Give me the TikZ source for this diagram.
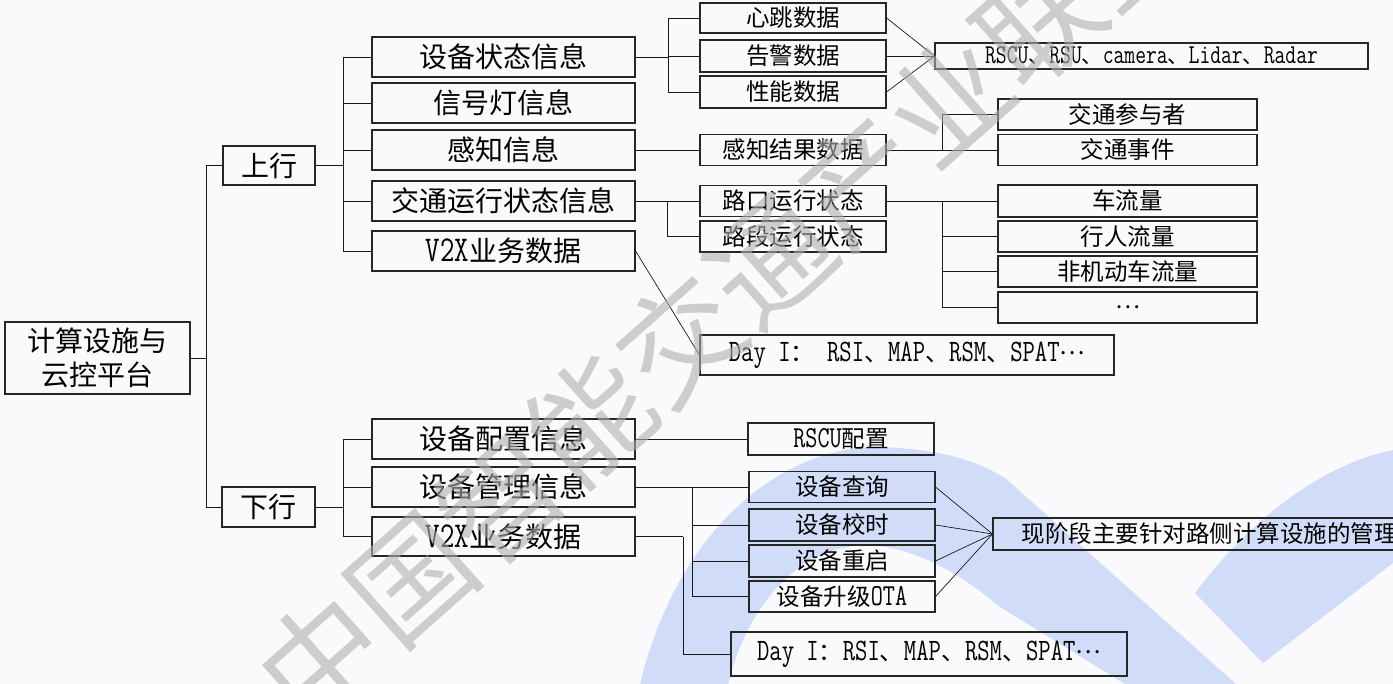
\documentclass[tikz,border=0pt]{standalone}
\usepackage{fontspec}
\setmainfont{Noto Sans CJK SC}
\newcommand\latx[1]{\scalebox{1}[1.3]{\ttfamily #1}}
\newcommand\mdots{\raisebox{0.28em}{…}}
\definecolor{bgc}{RGB}{250,250,252}
\definecolor{wblue}{RGB}{209,221,248}
\definecolor{wmgray}{RGB}{175,175,175}
\begin{document}
\begin{tikzpicture}[x=1pt,y=-1pt,
  box/.style={draw=black!85, line width=1.1pt, inner sep=0pt, align=center},
  big/.style={font=\fontsize{28}{34}\selectfont},
  mid/.style={font=\fontsize{23.5}{28}\selectfont},
  ln/.style={line width=0.9pt, draw=black!90},
  thinln/.style={line width=0.7pt, draw=black!90}]
\clip (0,0) rectangle (1393,684);
\fill[bgc] (0,0) rectangle (1393,684);
% background logo bands
\fill[wblue] (640,684) .. controls (680,520) and (790,445) .. (880,447)
  .. controls (940,449) and (975,460) .. (1005,478) -- (1236,684) -- (1125,684)
  -- (1000,607) .. controls (950,565) and (905,545) .. (862,545)
  .. controls (790,550) and (745,615) .. (728,684) -- cycle;
\fill[wblue] (1195,593) .. controls (1250,520) and (1320,465) .. (1393,450)
  -- (1393,563) -- (1263,663) -- cycle;

% root and level 1
\node[box,big,minimum width=185pt,minimum height=72pt] (root) at (97.5,358) {计算设施与\\云控平台};
\node[box,big,minimum width=92pt,minimum height=39pt] (up) at (269,165.5) {上行};
\node[box,big,minimum width=93pt,minimum height=40pt] (down) at (268.5,507) {下行};

% level 2
\node[box,big,minimum width=263pt,minimum height=40pt] (sbzt) at (503.5,57) {设备状态信息};
\node[box,big,minimum width=263pt,minimum height=40pt] (xhd) at (503.5,103) {信号灯信息};
\node[box,big,minimum width=263pt,minimum height=40pt] (gzxx) at (503.5,150) {感知信息};
\node[box,big,minimum width=263pt,minimum height=40pt] (jtyx) at (503.5,201) {交通运行状态信息};
\node[box,big,minimum width=263pt,minimum height=40pt] (v2xu) at (503.5,251) {\latx{V2X}业务数据};
\node[box,big,minimum width=263pt,minimum height=40pt] (sbpz) at (503.5,439) {设备配置信息};
\node[box,big,minimum width=263pt,minimum height=40pt] (sbgl) at (503.5,487) {设备管理信息};
\node[box,big,minimum width=263pt,minimum height=39pt] (v2xd) at (503.5,536.5) {\latx{V2X}业务数据};

% level 3 (upper)
\node[box,mid,minimum width=186pt,minimum height=30pt] (xt) at (793,18) {心跳数据};
\node[box,mid,minimum width=186pt,minimum height=32pt] (gj) at (793,56) {告警数据};
\node[box,mid,minimum width=186pt,minimum height=32pt] (xn) at (793,92) {性能数据};
\node[box,minimum width=433pt,minimum height=26pt,font=\fontsize{21}{24}\selectfont] (rscu) at (1151.5,56)
  {\latx{RSCU}、\latx{RSU}、\latx{camera}、\latx{Lidar}、\latx{Radar}};
\node[box,mid,minimum width=186pt,minimum height=31pt] (gzjg) at (793,150) {感知结果数据};
\node[box,mid,minimum width=259pt,minimum height=31pt] (cyz) at (1127.5,114.5) {交通参与者};
\node[box,mid,minimum width=259pt,minimum height=31pt] (sjian) at (1127.5,150) {交通事件};
\node[box,mid,minimum width=186pt,minimum height=31pt] (lk) at (793,201) {路口运行状态};
\node[box,mid,minimum width=186pt,minimum height=31pt] (ld) at (793,236.5) {路段运行状态};
\node[box,mid,minimum width=259pt,minimum height=32pt] (cll) at (1127.5,201) {车流量};
\node[box,mid,minimum width=259pt,minimum height=31pt] (xrll) at (1127.5,236.5) {行人流量};
\node[box,mid,minimum width=259pt,minimum height=31pt] (fjd) at (1127.5,271.5) {非机动车流量};
\node[box,mid,minimum width=259pt,minimum height=31pt] (etc) at (1127.5,307.5) {…};
\node[box,minimum width=414pt,minimum height=40pt,font=\fontsize{24}{28}\selectfont] (dayu) at (907,355)
  {\latx{Day I}：\latx{ RSI}、\latx{MAP}、\latx{RSM}、\latx{SPAT}\mdots};

% level 3 (lower)
\node[box,mid,minimum width=186pt,minimum height=32pt] (rscupz) at (841,439) {\latx{RSCU}配置};
\node[box,mid,minimum width=186pt,minimum height=31pt] (cx) at (842,487) {设备查询};
\node[box,mid,minimum width=186pt,minimum height=32pt] (js) at (842,525) {设备校时};
\node[box,mid,minimum width=186pt,minimum height=32pt] (cq) at (842,561) {设备重启};
\node[box,mid,minimum width=186pt,minimum height=31pt] (ota) at (842,596.5) {设备升级\latx{OTA}};
\node[box,mid,minimum width=433pt,minimum height=32pt] (xjd) at (1209.5,534) {现阶段主要针对路侧计算设施的管理};
\node[box,minimum width=396pt,minimum height=44pt,font=\fontsize{24}{28}\selectfont] (dayd) at (929,654)
  {\latx{Day I}：\latx{RSI}、\latx{MAP}、\latx{RSM}、\latx{SPAT}\mdots};

% connectors
\coordinate (j0) at (206,358);
\draw[ln] (root.east) -- (j0);
\draw[ln] (j0) |- (up.west);
\draw[ln] (j0) |- (down.west);
\coordinate (j1) at (343,165.5);
\draw[ln] (up.east) -- (j1);
\foreach \n in {sbzt,xhd,gzxx,jtyx,v2xu} \draw[ln] (j1) |- (\n.west);
\coordinate (j2) at (343,507);
\draw[ln] (down.east) -- (j2);
\foreach \n in {sbpz,sbgl,v2xd} \draw[ln] (j2) |- (\n.west);
\coordinate (j3) at (668,57);
\draw[ln] (sbzt.east) -- (j3);
\foreach \n in {xt,gj,xn} \draw[ln] (j3) |- (\n.west);
\foreach \n in {xt,gj,xn} \draw[thinln] (\n.east) -- (rscu.west);
\draw[ln] (gzxx.east) -- (gzjg.west);
\coordinate (j4) at (942,150);
\draw[ln] (gzjg.east) -- (j4);
\foreach \n in {cyz,sjian} \draw[ln] (j4) |- (\n.west);
\coordinate (j5) at (667,201);
\draw[ln] (jtyx.east) -- (j5);
\foreach \n in {lk,ld} \draw[ln] (j5) |- (\n.west);
\coordinate (j6) at (942,201);
\draw[ln] (lk.east) -- (j6);
\foreach \n in {cll,xrll,fjd,etc} \draw[ln] (j6) |- (\n.west);
\draw[thinln] (v2xu.east) -- (dayu.west);
\draw[ln] (sbpz.east) -- (rscupz.west);
\coordinate (j7) at (692,487);
\draw[ln] (sbgl.east) -- (j7);
\foreach \n in {cx,js,cq,ota} \draw[ln] (j7) |- (\n.west);
\foreach \n in {cx,js,cq,ota} \draw[thinln] (\n.east) -- (xjd.west);
\coordinate (j8) at (683,536.5);
\draw[ln] (v2xd.east) -- (j8);
\draw[ln] (j8) |- (dayd.west);

% watermark
\node[rotate=41.6, text=wmgray, text opacity=0.6, inner sep=0pt, font=\fontsize{120}{120}\selectfont] (wm) at (725,300)
  {中国智能交通产业联盟};
\end{tikzpicture}
\end{document}
